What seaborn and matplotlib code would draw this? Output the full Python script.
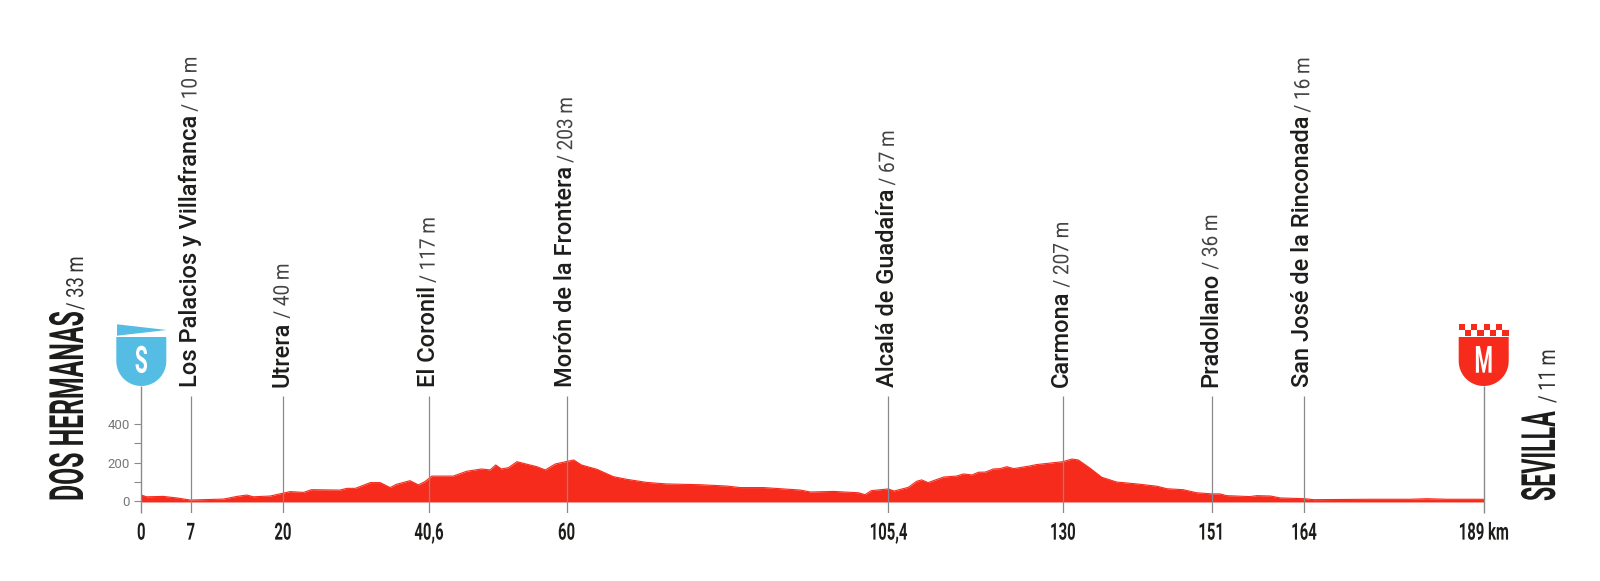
import numpy as np
import pandas as pd
import matplotlib
matplotlib.use("Agg")
import matplotlib.pyplot as plt
from matplotlib.patches import Polygon, Rectangle
from matplotlib.patheffects import AbstractPathEffect
from matplotlib.transforms import Affine2D
import seaborn as sns

# profile (km, metres)
km = [0, 0.75, 3.1, 5, 6.9, 8.75, 11.6, 13.5, 14.9, 15.8, 18.2, 19.9, 21, 22.9, 24, 28, 29, 30.2,
      32.3, 33.7, 35.1, 36, 37.9, 39.1, 40, 41, 44, 45.9, 48, 49.2, 50, 50.8, 51.8, 53, 54.6, 55.8,
      57, 58.4, 59.5, 61, 62.1, 64.3, 66.6, 68.5, 71.3, 74.1, 78.8, 82.6, 84.5, 87.8, 93, 94.4,
      97.7, 101.2, 102.1, 103, 105.4, 106.2, 108.2, 109.4, 110.1, 111, 113.2, 115, 116, 117.2,
      118.1, 119.1, 120.2, 121.2, 122.1, 123.1, 125.4, 126.3, 130, 131.3, 132.2, 133.9, 135.5,
      137.6, 140.5, 143.3, 144.7, 147, 148.9, 151.1, 152.2, 153.1, 156.4, 157.4, 159.3, 160.7,
      164.15, 165.4, 173.4, 179, 181.4, 184.2, 189.4]
elevation = [31, 22, 24, 16, 5, 7, 10, 24, 31, 22, 26, 40, 49, 45, 59, 57, 66, 66,
             96, 96, 70, 87, 106, 84, 101, 130, 130, 155, 167, 162, 188, 167, 174, 205, 190, 179,
             162, 193, 202, 214, 188, 165, 127, 113, 97, 89, 85, 78, 70, 70, 57, 47,
             50, 43, 33, 54, 63, 52, 71, 103, 110, 96, 125, 130, 141, 136,
             150, 151, 167, 169, 179, 169, 183, 190, 205, 219, 214, 170, 124,
             99, 89, 77, 64, 59, 43, 37, 37, 28, 23, 28, 26, 16,
             12, 7, 9, 9, 12, 9, 9]

# passes along the route
pass_km = [7, 20, 40.6, 60, 105.4, 130, 151, 164]
pass_names = ["Los Palacios y Villafranca", "Utrera", "El Coronil", "Morón de la Frontera",
              "Alcalá de Guadaíra", "Carmona", "Pradollano", "San José de la Rinconada"]
pass_alt = ["10 m", "40 m", "117 m", "203 m", "67 m", "207 m", "36 m", "16 m"]

tick_km = [0, 7, 20, 40.6, 60, 105.4, 130, 151, 164, 189.4]
tick_labels = ["0", "7", "20", "40,6", "60", "105,4", "130", "151", "164", "189 km"]
y_major = [0, 200, 400]
y_minor = [100, 300]

RED = "#F62B1B"
BLUE = "#55BDE3"
GREY = "#8a8a8a"
INK = "#1d1d1b"
PX = 0.72  # points per pixel at dpi 100


class Squeeze(AbstractPathEffect):
    # no condensed font here, so narrow the glyphs along the baseline
    def __init__(self, sx, center=False):
        super().__init__()
        self.sx = sx
        self.center = center

    def draw_path(self, renderer, gc, tpath, affine, rgbFace=None):
        cx = 0
        if self.center:
            ext = tpath.get_extents()
            cx = (ext.x0 + ext.x1) / 2
        squeeze = Affine2D().translate(-cx, 0).scale(self.sx, 1).translate(cx, 0)
        renderer.draw_path(gc, tpath, squeeze + affine, rgbFace)


def fig_xy(x, y):
    # picture pixels, from the top left, to figure fraction
    return x / 1600, (581 - y) / 581


df = pd.DataFrame({"km": km, "elevation": elevation})

sns.set_theme(style="white")
plt.rcParams["font.family"] = ["Roboto", "DejaVu Sans"]

fig = plt.figure(figsize=(16, 5.81), dpi=100)
# axes: 0 km at x=141.3px, 1 m = 0.1917px, baseline at y=501px
ax = fig.add_axes([141.3 / 1600, (581 - 513.3) / 581, (1483.7 - 141.3) / 1600, 513.3 / 581])
ax.set_xlim(0, 189.4)
ax.set_ylim(-12.3 / 0.1917, 501 / 0.1917)
ax.patch.set_alpha(0)

ax.fill_between(df["km"], -5, df["elevation"], color=RED, lw=0, zorder=2)
sns.lineplot(data=df, x="km", y="elevation", color=RED, lw=0.8, ax=ax, zorder=2)
ax.set_xlabel("")
ax.set_ylabel("")
sns.despine(ax=ax, left=True, bottom=True, top=True, right=True)

ax.set_xticks(tick_km)
ax.set_xticklabels(tick_labels, fontsize=17, fontweight="bold", color=INK)
for lab in ax.get_xticklabels():
    lab.set_path_effects([Squeeze(0.63, center=True)])
ax.set_yticks(y_major)
ax.set_yticks(y_minor, minor=True)
ax.set_yticklabels([str(v) for v in y_major], fontsize=9.5, color="#777777")
ax.tick_params(axis="x", length=0, pad=6, bottom=False)
ax.tick_params(axis="y", which="both", length=5, width=0.8, color=GREY, pad=3, left=True)

# vertical markers
ax.vlines(pass_km, -12.3 / 0.1917, 105 / 0.1917, color=GREY, lw=0.9, zorder=3)
ax.vlines([0, 189.4], -12.3 / 0.1917, 115 / 0.1917, color=GREY, lw=1.0, zorder=3, clip_on=False)

# labels of the passes
renderer = fig.canvas.get_renderer()
for x, name, alt in zip(pass_km, pass_names, pass_alt):
    t = ax.annotate(name, (x, 0), xytext=(5.6 * PX, 114 * PX), textcoords="offset points", rotation=90,
                    rotation_mode="anchor", ha="left", va="baseline", fontsize=17, fontweight="medium", color=INK)
    bb = t.get_window_extent(renderer)
    px = ax.transData.transform((x, 0))[0] + 5.6
    a = fig.text(px / 1600, (bb.y1 + 3) / 581, "/ " + alt, rotation=90, rotation_mode="anchor", ha="left",
                 va="baseline", fontsize=15.5, color="#444444")
    a.set_path_effects([Squeeze(0.88)])

# start and finish names
big = [("DOS HERMANAS", 83, 0.525), ("SEVILLA", 1555, 0.49)]
small = [("/ 33 m", 83, 310), ("/ 11 m", 1555, 403)]
for name, x, sq in big:
    fx, fy = fig_xy(x, 501)
    t = fig.text(fx, fy, name, rotation=90, rotation_mode="anchor", ha="left", va="baseline",
                 fontsize=34, fontweight="bold", color=INK)
    t.set_path_effects([Squeeze(sq)])
for name, x, y in small:
    fx, fy = fig_xy(x, y)
    t = fig.text(fx, fy, name, rotation=90, rotation_mode="anchor", ha="left", va="baseline",
                 fontsize=17, color="#333333")
    t.set_path_effects([Squeeze(0.78)])


def shield(cx, color, letter):
    # outline of the start and finish badges, in picture pixels
    w = 25
    t = np.linspace(0, np.pi, 40)
    pts = [(cx - w, 337), (cx + w, 337), (cx + w, 361)]
    pts += [(cx + w * np.cos(a), 361 + 25 * np.sin(a)) for a in t]
    fig.add_artist(Polygon([fig_xy(x, y) for x, y in pts], closed=True, fc=color, ec="none",
                           transform=fig.transFigure))
    fx, fy = fig_xy(cx, 372.7)
    lab = fig.text(fx, fy, letter, color="white", ha="center", va="baseline", fontsize=27, fontweight="bold")
    lab.set_path_effects([Squeeze(0.56, center=True)])


shield(141.3, BLUE, "S")
shield(1483.7, RED, "M")

# start flag
flag = [(117, 324.3), (166.7, 330), (117, 335.7)]
fig.add_artist(Polygon([fig_xy(x, y) for x, y in flag], closed=True, fc=BLUE, ec="none",
                       transform=fig.transFigure))
# finish checks
cell = 6.25
for row, y0 in enumerate([324, 329.8]):
    for i in range(8):
        if i % 2 == row:
            x0 = 1458.7 + i * cell
            fx, fy = fig_xy(x0, y0 + 5.9)
            fig.add_artist(Rectangle((fx, fy), cell / 1600, 5.9 / 581, fc=RED, ec="none",
                                     transform=fig.transFigure))

fig.savefig("out.png", dpi=100, facecolor="white")
